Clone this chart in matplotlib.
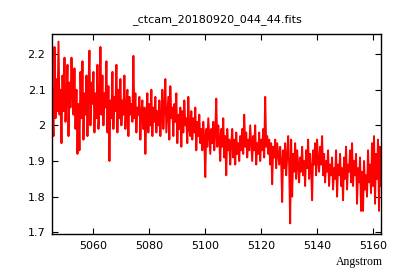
import numpy as np
import matplotlib

matplotlib.use("Agg")
import matplotlib.pyplot as plt

# wavelength grid as in the FITS header (start + step)
CRVAL1 = 5045.4
CDELT1 = 0.3567

flux = [
    2.05, 1.97, 2.22, 2.02, 2.13, 2.04, 2.235, 2.03, 2.10, 1.95,
    2.14, 2.04, 2.19, 2.01, 2.08, 2.17, 1.97, 2.12, 2.05, 2.19,
    2.09, 2.03, 2.16, 1.99, 2.10, 1.92, 2.06, 1.93, 2.15, 2.02,
    2.18, 1.96, 2.09, 2.03, 2.14, 1.97, 2.10, 2.21, 2.00, 2.12,
    2.06, 2.15, 1.98, 2.09, 2.02, 2.17, 1.99, 2.05, 2.22, 2.03,
    2.14, 2.00, 2.09, 2.05, 2.18, 1.98, 2.11, 1.90, 2.07, 2.02,
    2.15, 1.99, 2.08, 2.04, 2.17, 1.98, 2.10, 2.02, 2.13, 2.00,
    2.07, 2.03, 2.14, 1.99, 2.05, 2.10, 1.97, 2.08, 2.03, 2.06,
    2.01, 2.195, 2.02, 2.09, 1.98, 2.05, 2.03, 2.08, 1.96, 2.04,
    2.07, 1.99, 2.05, 1.92, 2.03, 2.09, 1.98, 2.06, 2.00, 2.10,
    1.97, 2.05, 2.01, 2.08, 1.98, 2.04, 2.00, 2.07, 1.97, 2.03,
    2.10, 1.99, 2.05, 2.13, 1.98, 2.03, 2.08, 1.96, 2.11, 2.02,
    2.05, 1.97, 2.06, 2.01, 2.09, 1.95, 2.03, 1.99, 2.05, 1.94,
    2.04, 1.98, 2.07, 2.00, 2.02, 1.95, 2.08, 1.99, 1.97, 2.04,
    1.96, 2.02, 1.98, 2.05, 1.93, 2.01, 1.97, 2.03, 1.95, 1.99,
    1.93, 2.01, 1.96, 1.855, 1.99, 1.94, 2.02, 1.97, 1.92, 1.99,
    1.95, 2.01, 1.93, 1.98, 2.075, 1.94, 2.00, 1.96, 1.90, 1.99,
    1.94, 2.02, 1.91, 1.97, 1.86, 1.99, 1.93, 1.96, 1.89, 1.95,
    1.99, 1.91, 1.96, 1.89, 1.98, 1.92, 1.95, 1.90, 1.97, 1.93,
    1.99, 1.92, 2.03, 1.94, 1.98, 1.91, 1.96, 1.93, 2.00, 1.95,
    1.90, 1.97, 1.93, 2.00, 1.89, 1.95, 1.92, 1.98, 1.90, 1.96,
    1.93, 1.99, 1.91, 2.08, 1.94, 1.97, 1.92, 1.96, 1.89, 1.95,
    1.835, 1.94, 1.91, 1.96, 1.88, 1.95, 1.92, 1.89, 1.94, 1.90,
    1.785, 1.93, 1.88, 1.95, 1.86, 1.91, 1.97, 1.89, 1.725, 1.96,
    1.80, 1.92, 1.87, 1.95, 1.85, 1.93, 1.89, 1.84, 1.91, 1.87,
    1.94, 1.86, 1.90, 1.83, 1.93, 1.88, 1.96, 1.85, 1.92, 1.88,
    1.79, 1.93, 1.89, 1.95, 1.86, 1.96, 1.90, 1.87, 1.94, 1.89,
    1.97, 1.86, 1.92, 1.84, 1.90, 1.87, 1.93, 1.83, 1.89, 1.86,
    1.91, 1.82, 1.88, 1.85, 1.93, 1.80, 1.89, 1.86, 1.92, 1.83,
    1.88, 1.79, 1.91, 1.85, 1.94, 1.82, 1.89, 1.87, 1.93, 1.84,
    1.95, 1.83, 1.90, 1.86, 1.92, 1.78, 1.88, 1.84, 1.91, 1.76,
    1.87, 1.76, 1.90, 1.82, 1.86, 1.80, 1.93, 1.84, 1.89, 1.81,
    1.95, 1.83, 1.97, 1.78, 1.92, 1.85, 1.96, 1.76, 1.94, 1.83,
]
wave = CRVAL1 + CDELT1 * np.arange(len(flux))

xticks = [5060, 5080, 5100, 5120, 5140, 5160]
yticks = [1.7, 1.8, 1.9, 2.0, 2.1, 2.2]
ytick_labels = ["1.7", "1.8", "1.9", "2", "2.1", "2.2"]

fig = plt.figure(figsize=(4, 2.8), dpi=100)
ax = fig.add_axes([0.131, 0.164, 0.8215, 0.716])
ax.plot(wave, flux, color="red", lw=1.4)

ax.set_xlim(5045.36, 5162.75)
ax.set_ylim(1.695, 2.2575)
ax.set_xticks(xticks)
ax.set_yticks(yticks)
ax.set_yticklabels(ytick_labels)
ax.tick_params(direction="in", top=True, right=True, length=4, width=0.8,
               labelsize=8, pad=5)
for s in ax.spines.values():
    s.set_linewidth(1.0)

ax.set_title("_ctcam_20180920_044_44.fits", fontsize=8, pad=8)
fig.text(383 / 400, 1 - 261.7 / 280, "Angstrom", ha="right", va="center",
         fontsize=8.5, family="Liberation Serif")

fig.savefig("out.png", dpi=100)
